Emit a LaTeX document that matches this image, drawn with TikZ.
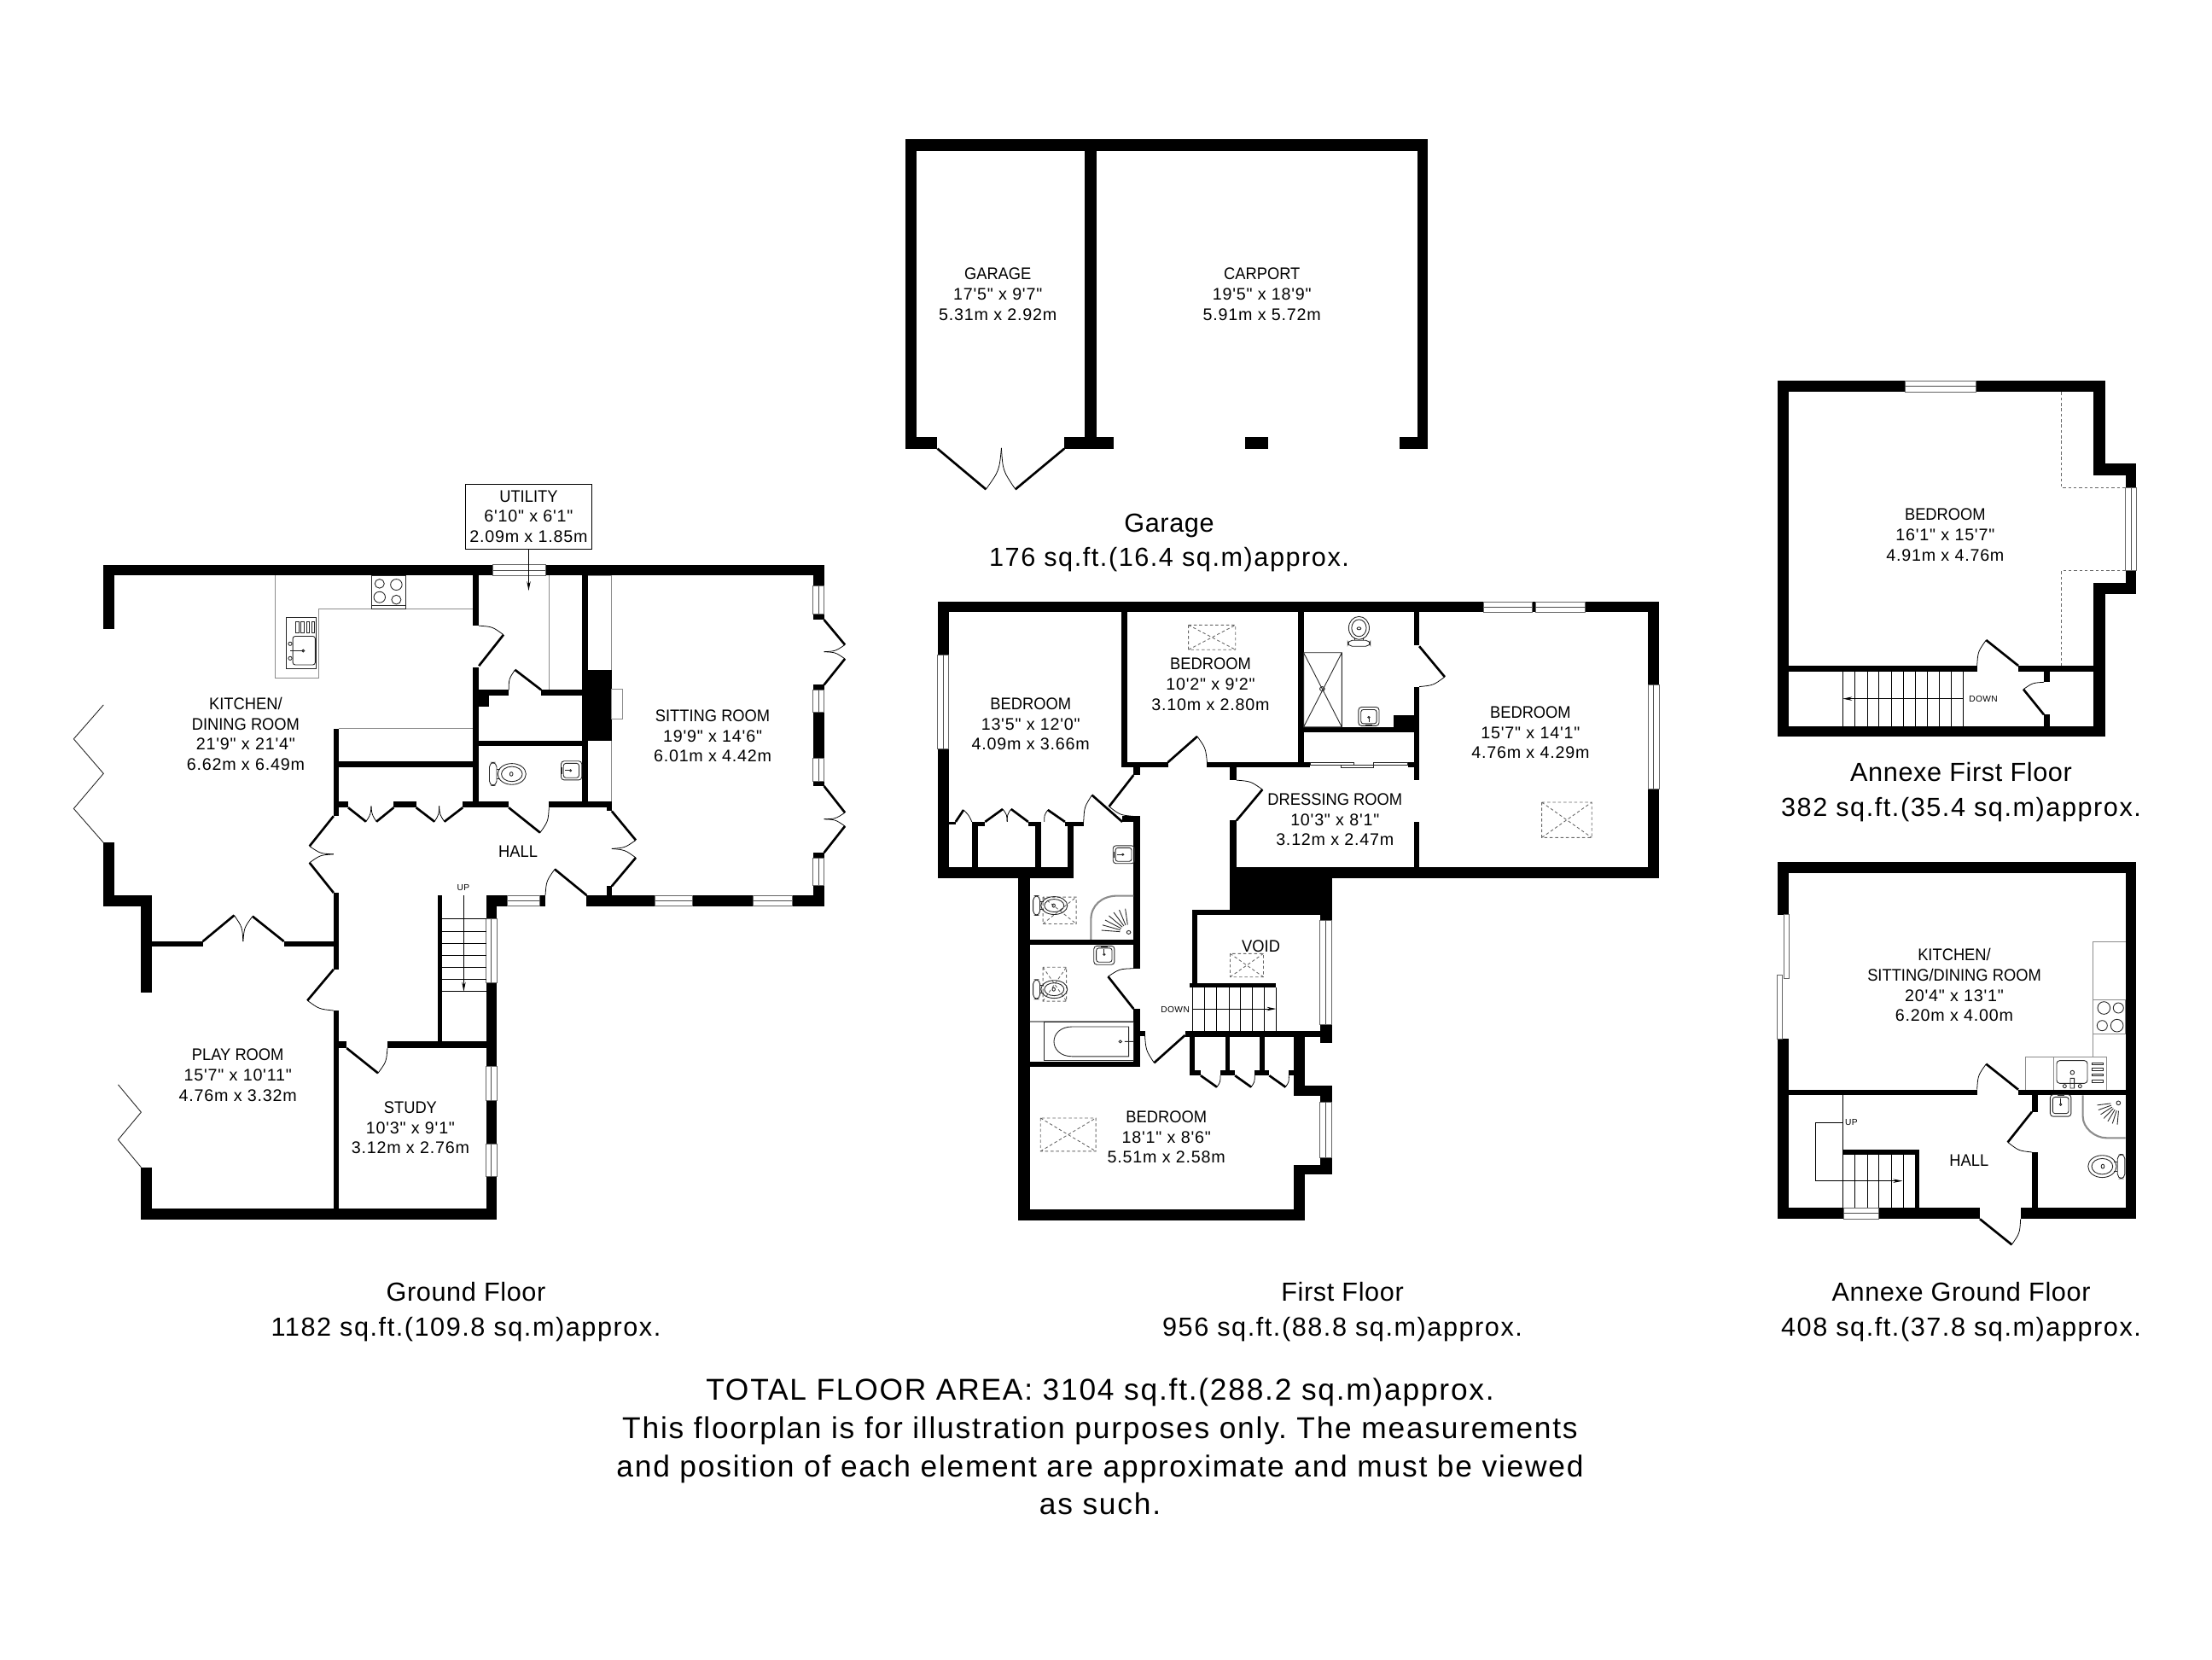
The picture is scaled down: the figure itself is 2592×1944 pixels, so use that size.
\documentclass[tikz,border=0pt]{standalone}
\usepackage{fontspec}
\usetikzlibrary{calc,arrows.meta}
\newfontfamily\planfont[LetterSpace=4]{Liberation Sans}
\newfontfamily\planname[FakeStretch=.93]{Liberation Sans}
\newfontfamily\capfont[LetterSpace=5]{Liberation Sans}
\newfontfamily\capnamefont[LetterSpace=2]{Liberation Sans}
\tikzset{
	wall/.style={fill=black,draw=none},
	leaf/.style={line width=.75pt,black},
	swing/.style={line width=.22pt,black},
	fixture/.style={line width=.25pt,black!85},
	unitline/.style={line width=.3pt,black!45},
	skyline/.style={line width=.25pt,black!60,dash pattern=on 1pt off .8pt},
	tread/.style={line width=.25pt,black},
	stairarrow/.style={line width=.25pt,-{Stealth[length=1.1mm,width=.45mm]}},
	roomlabel/.style={align=center,inner sep=0pt,font=\planfont\fontsize{5.6}{6.74}\selectfont},
	smalllabel/.style={inner sep=0pt,font=\planfont\fontsize{2.9}{3.4}\selectfont},
	floorcap/.style={align=center,inner sep=0pt,font=\capfont\frenchspacing\fontsize{8.72}{11.4}\selectfont},
	totalcap/.style={align=center,inner sep=0pt,font=\capfont\frenchspacing\fontsize{10.05}{12.7}\selectfont}
}
\newcommand{\roomname}[1]{{\planname #1}}
\newcommand{\floorname}[1]{{\capnamefont #1}}
\newcommand{\walls}[1]{\foreach \xa/\ya/\xb/\yb in {#1} {\fill[wall] (\xa,\ya) rectangle (\xb,\yb);}}
\newcommand{\door}[3]{\draw[leaf] (#1) -- (#2);\draw[swing] (#2) .. controls ($(#1)!1.1!($(#2)!.5!(#3)$)$) .. (#3);}
\newcommand{\winh}[4]{\filldraw[fixture,draw=black!60,fill=white] (#1,#2) rectangle (#3,#4);\draw[fixture,draw=black!70] (#1,{(#2+#4)/2}) -- (#3,{(#2+#4)/2});}
\newcommand{\winv}[4]{\filldraw[fixture,draw=black!60,fill=white] (#1,#2) rectangle (#3,#4);\draw[fixture,draw=black!70] ({(#1+#3)/2},#2) -- ({(#1+#3)/2},#4);}
\newcommand{\skylight}[4]{\draw[skyline] (#1,#2) rectangle (#3,#4) (#1,#2) -- (#3,#4) (#1,#4) -- (#3,#2);}
\newcommand{\wcpan}[4]{\begin{scope}[shift={(#1,#2)},rotate=#3,scale=#4]
	\draw[fixture,rounded corners=1.5pt] (-35,-23) rectangle (-21,23);
	\draw[fixture] (-21,-9) -- (-14,-9) (-21,9) -- (-14,9);
	\draw[fixture] (8,0) ellipse (27 and 21);
	\draw[fixture] (8,0) ellipse (20 and 15);
	\draw[fixture] (7,0) ellipse (3 and 4);
\end{scope}}
\newcommand{\basin}[4]{\begin{scope}[shift={(#1,#2)},rotate=#3,scale=#4]
	\draw[fixture,rounded corners=1pt] (-21,-22) rectangle (21,22);
	\draw[fixture,rounded corners=.8pt] (-16,-16) rectangle (16,17);
	\draw[fixture] (0,14) -- (0,4) (-7,20) -- (7,20);
	\draw[fixture] (0,2) circle (2);
\end{scope}}
\begin{document}
\begin{tikzpicture}[x=0.01cm,y=-0.01cm]
	\useasboundingbox (0,0) rectangle (2592,1944);
	\fill[white] (0,0) rectangle (2592,1944);
	
	\begin{scope}[shift={(60,550)},xscale=0.6127,yscale=0.587]
		\walls{100/190/1478/212,100/190/120/318,100/745/120/872,100/850/193/872,172/850/193/1045,
			193/942/290/952,445/942/545/952,172/1393/193/1497,172/1475/852/1497,832/850/852/1497,
			540/517/550/692,540/845/550/998,540/1080/550/1475,540/663/568/675,655/663/698/675,
			787/663/875/675,952/663/1072/675,806/212/818/312,806/395/818/675,550/583/806/595,
			818/440/875/452,818/452/838/473,937/440/1015/452,818/541/1015/552,1015/212/1026/400,
			1015/400/1072/541,1015/541/1026/675,1457/190/1478/300,1457/430/1478/632,1457/765/1478/872,
			1024/850/1478/872,1062/675/1072/682,1062/832/1072/850,832/850/945/872,643/1142/852/1155,
			550/1142/565/1155,740/850/747/1142}
		\winh{845}{190}{945}{212}
		\winh{1155}{850}{1227}{872}
		\winh{1342}{850}{1417}{872}
		\winh{873}{850}{935}{872}
		\foreach \ya/\yb in {233/288,440/485,577/622,775/830} {\winv{1457}{\ya}{1478}{\yb}}
		\foreach \ya/\yb in {897/1025,1192/1260,1347/1412} {\winv{832}{\ya}{852}{\yb}}
		\draw[fixture] (100,470) -- (43,538) -- (100,607) -- (43,677) -- (100,745);
		\draw[fixture] (128,1228) -- (172,1283) -- (128,1338) -- (172,1393);
		\door{818,392}{865,330}{818,312}
		\door{937,440}{887,400}{875,440}
		\door{290,942}{350,890}{367,942}
		\door{445,942}{385,892}{367,942}
		\door{568,675}{602,703}{612,672}
		\door{655,675}{622,703}{612,672}
		\door{698,675}{733,703}{742,672}
		\door{787,675}{752,703}{742,672}
		\door{875,675}{935,725}{952,675}
		\door{540,692}{494,752}{540,768}
		\door{540,845}{494,785}{540,768}
		\door{1072,682}{1118,740}{1072,757}
		\door{1072,832}{1118,775}{1072,757}
		\door{1024,850}{963,798}{945,850}
		\door{540,998}{490,1060}{540,1080}
		\door{565,1155}{625,1205}{643,1155}
		\door{1478,300}{1518,350}{1478,364}
		\door{1478,430}{1518,378}{1478,364}
		\door{1478,632}{1518,685}{1478,698}
		\door{1478,765}{1518,712}{1478,698}
		\draw[unitline] (428,212) -- (428,417) -- (512,417) -- (512,278) -- (806,278);
		\draw[unitline] (550,517) -- (806,517);
		\draw[unitline] (1026,212) -- (1072,212) -- (1072,400) (1072,541) -- (1072,663) (952,212) -- (952,440);
		\draw[unitline] (1072,438) rectangle (1093,498);
		\draw[fixture] (612,212) rectangle (678,278) (612,272) -- (678,272);
		\foreach \xa/\ya/\ra in {628/228/9,660/230/11,628/255/11,660/260/9} {\draw[fixture] (\xa,\ya) circle (\ra);}
		\draw[fixture] (450,295) rectangle (507,398);
		\draw[fixture,rounded corners=.8pt] (462,333) rectangle (505,390);
		\foreach \xa in {468,478,488,498} {\draw[fixture] (\xa,304) rectangle (\xa+6,326);}
		\draw[fixture] (457,362) -- (482,362) (457,348) circle (3.5) (457,377) circle (3.5) (482,362) circle (2.5);
		\wcpan{873}{608}{0}{1}
		\basin{995}{601}{-90}{.9}
		\foreach \ya in {897,922,946,970,994,1018,1042} {\draw[tread] (747,\ya) -- (832,\ya);}
		\draw[stairarrow] (789,850) -- (789,1042);
		\node[smalllabel] (groundup) at (788,834) {UP};
		\node[roomlabel] (kitchen) at (372,528) {\roomname{KITCHEN/}\\\roomname{DINING ROOM}\\21'9" x 21'4"\\6.62m x 6.49m};
		\node[roomlabel] (sitting) at (1265,532) {\roomname{SITTING ROOM}\\19'9" x 14'6"\\6.01m x 4.42m};
		\node[roomlabel] (hallg) at (893,763) {\roomname{HALL}};
		\node[roomlabel] (playroom) at (357,1209) {\roomname{PLAY ROOM}\\15'7" x 10'11"\\4.76m x 3.32m};
		\node[roomlabel] (study) at (687,1314) {\roomname{STUDY}\\10'3" x 9'1"\\3.12m x 2.76m};
		\node[roomlabel,draw,line width=.3pt,minimum width=1.48cm,minimum height=.76cm] (utility) at (913,94) {\roomname{UTILITY}\\6'10" x 6'1"\\2.09m x 1.85m};
		\coordinate (utilitytip) at (utility.south |- 0,242);
		\draw[stairarrow] (utility.south) -- (utilitytip);
	\end{scope}
	
	\begin{scope}[shift={(1090,690)},xscale=0.5742,yscale=0.498]
		\walls{15/30/1488/55,15/30/38/680,15/655/293/680,180/655/203/1485,180/1460/765/1485,
			742/1055/765/1193,742/1378/765/1485,742/1168/820/1193,795/1168/820/1378,742/1355/820/1378,
			1465/30/1488/680,612/655/1488/680,612/680/820/755,535/755/820/768,535/755/545/938,
			530/928/706/938,795/755/820/1068,520/1040/820/1055,530/1055/540/1145,602/1055/612/1145,
			672/1055/682/1145,530/1132/552/1145,592/1132/622/1145,662/1132/692/1145,732/1132/765/1145,
			612/408/625/450,612/545/625/655,390/55/403/420,390/408/485/420,565/408/775/420,750/55/762/420,
			760/325/998/338,945/298/998/325,987/55/998/132,987/230/998/450,987/548/998/655,975/408/998/420,
			415/420/428/438,415/535/428/893,415/988/428/1125,428/1040/438/1052,203/825/415/838,
			203/1112/428/1125,85/548/97/655,215/548/227/655,280/548/293/680,38/548/52/555,85/548/112/558,
			200/548/227/558,275/548/313/558,392/535/428/548}
		\winh{1130}{30}{1228}{55}
		\winh{1235}{30}{1337}{55}
		\winv{15}{155}{38}{377}
		\winv{1465}{225}{1488}{470}
		\winv{795}{780}{820}{1025}
		\winv{795}{1207}{820}{1338}
		\door{52,548}{68,520}{85,548}
		\door{112,548}{148,518}{157,548}
		\door{200,548}{165,518}{157,548}
		\door{275,548}{240,520}{233,548}
		\door{392,548}{330,485}{313,548}
		\door{415,438}{365,512}{415,535}
		\door{485,408}{545,347}{565,408}
		\door{625,545}{678,472}{625,450}
		\door{998,135}{1050,207}{998,230}
		\door{415,988}{363,912}{415,893}
		\door{520,1050}{457,1115}{438,1050}
		\door{552,1145}{585,1172}{592,1145}
		\door{622,1145}{655,1172}{662,1145}
		\door{692,1145}{725,1172}{732,1145}
		\draw[fixture] (775,408) rectangle (865,414) (838,414) rectangle (905,420) (905,408) rectangle (975,414);
		\draw[fixture] (762,150) rectangle (840,325) (762,150) -- (840,325) (762,325) -- (840,150) (800,235) circle (5);
		\skylight{527}{85}{623}{143}
		\skylight{1248}{502}{1350}{585}
		\skylight{225}{1245}{338}{1323}
		\skylight{612}{858}{680}{913}
		\skylight{230}{725}{298}{788}
		\skylight{230}{890}{278}{970}
		\wcpan{875}{100}{90}{1}
		\wcpan{245}{745}{0}{1}
		\wcpan{245}{942}{0}{1}
		\basin{895}{300}{0}{1}
		\basin{395}{625}{-90}{1}
		\basin{355}{862}{180}{1}
		\draw[unitline,line width=.6pt] (328,825) -- (328,778) .. controls (328,745) and (350,722) .. (382,722) -- (415,722);
		\foreach \a in {185,198,211,224,237,250,263} {\draw[fixture] (405,808) ++(\a:18) -- ++(\a:38);}
		\draw[fixture] (405,808) circle (4);
		\draw[unitline] (203,1018) -- (415,1018);
		\draw[fixture] (232,1018) rectangle (415,1110);
		\draw[fixture] (405,1030) -- (290,1030) .. controls (240,1030) and (240,1100) .. (290,1100) -- (405,1100) -- cycle;
		\draw[fixture] (388,1065) circle (3) (397,1065) -- (415,1065);
		\foreach \xa in {535,560,585,610,633,658,682,706} {\draw[tread] (\xa,938) -- (\xa,1040);}
		\draw[stairarrow] (535,988) -- (706,988);
		\node[smalllabel] (firstdown) at (500,989) {DOWN};
		\node[roomlabel] (bedroomwest) at (205,318) {\roomname{BEDROOM}\\13'5" x 12'0"\\4.09m x 3.66m};
		\node[roomlabel] (bedroommid) at (572,224) {\roomname{BEDROOM}\\10'2" x 9'2"\\3.10m x 2.80m};
		\node[roomlabel] (bedroomeast) at (1225,338) {\roomname{BEDROOM}\\15'7" x 14'1"\\4.76m x 4.29m};
		\node[roomlabel] (dressing) at (826,543) {\roomname{DRESSING ROOM}\\10'3" x 8'1"\\3.12m x 2.47m};
		\node[roomlabel] (bedroomsouth) at (482,1290) {\roomname{BEDROOM}\\18'1" x 8'6"\\5.51m x 2.58m};
		\node[roomlabel] (void) at (675,841) {\roomname{VOID}};
	\end{scope}
	
	\begin{scope}[shift={(1050,150)},xscale=0.4212,yscale=0.3333]
		\walls{27/40/1480/80,27/40/58/1127,27/1087/115/1127,468/1087/605/1127,525/40/557/1127,
			972/1087/1035/1127,1400/1087/1480/1127,1450/40/1480/1127}
		\door{115,1127}{250,1270}{293,1125}
		\door{468,1127}{332,1270}{293,1125}
		\node[roomlabel] (garage) at (283,584) {\roomname{GARAGE}\\17'5" x 9'7"\\5.31m x 2.92m};
		\node[roomlabel] (carport) at (1018,584) {\roomname{CARPORT}\\19'5" x 18'9"\\5.91m x 5.72m};
	\end{scope}
	
	\begin{scope}[shift={(2070,430)},scale=0.3333]
		\walls{38/48/1190/88,38/48/78/1300,38/1262/1190/1300,1150/48/1190/380,1150/340/1300/380,
			1262/340/1300/425,1262/715/1300/798,1150/758/1300/798,1150/758/1190/1300,78/1050/740/1070,
			885/1050/1150/1070,975/1070/995/1108,975/1222/995/1262}
		\winh{487}{48}{737}{88}
		\winv{1262}{425}{1300}{715}
		\door{885,1050}{772,960}{740,1050}
		\door{975,1222}{903,1133}{975,1108}
		\draw[skyline] (1037,88) -- (1037,425) -- (1262,425) (1262,715) -- (1037,715) -- (1037,1050);
		\foreach \xa in {268,311,354,395,438,480,523,566,608,650,692} {\draw[tread] (\xa,1070) -- (\xa,1262);}
		\draw[stairarrow] (692,1166) -- (268,1166);
		\node[smalllabel] (annexedown) at (762,1167) {DOWN};
		\node[roomlabel] (bedroomannexe) at (628,590) {\roomname{BEDROOM}\\16'1" x 15'7"\\4.91m x 4.76m};
	\end{scope}
	
	\begin{scope}[shift={(2070,1000)},scale=0.3333]
		\walls{38/30/1300/70,38/30/78/215,38/652/78/1285,1262/30/1300/1285,38/1245/750/1285,
			893/1245/1300/1285,78/830/740/850,885/830/1262/850,933/850/953/908,933/1050/953/1245,
			268/1040/538/1060,523/1040/538/1245}
		\winh{270}{1245}{395}{1285}
		\draw[fixture,draw=black!60] (60,215) rectangle (78,440) (38,428) rectangle (56,652);
		\door{885,830}{772,740}{740,830}
		\door{933,908}{848,1015}{933,1050}
		\door{750,1285}{862,1375}{893,1285}
		\draw[tread] (268,850) -- (268,1245);
		\foreach \xa in {311,354,395,438,480} {\draw[tread] (\xa,1060) -- (\xa,1245);}
		\draw[stairarrow] (268,945) -- (172,945) -- (172,1151) -- (478,1151);
		\node[smalllabel] (annexeup) at (298,945) {UP};
		\draw[unitline] (1262,310) -- (1147,310) -- (1147,715) (910,830) -- (910,715) -- (1195,715) -- (1195,830) (1010,715) -- (1010,830);
		\draw[unitline] (1147,515) rectangle (1262,635);
		\foreach \xa/\ya/\ra in {1186/543/22,1237/543/18,1180/605/18,1232/605/22} {\draw[fixture] (\xa,\ya) circle (\ra);}
		\draw[fixture,rounded corners=1pt] (1020,728) rectangle (1128,808);
		\foreach \ya in {735,755,775,797} {\draw[fixture] (1143,\ya) rectangle (1183,\ya+7);}
		\draw[fixture] (1075,770) circle (7) (1068,790) rectangle (1082,825) (1048,818) circle (6) (1102,818) circle (6);
		\basin{1034}{886}{180}{1.75}
		\wcpan{1195}{1100}{180}{1.85}
		\draw[unitline,line width=.6pt] (1112,850) -- (1112,925) .. controls (1112,965) and (1155,1000) .. (1195,1000) -- (1262,1000);
		\foreach \a in {95,108,121,134,147,160,173} {\draw[fixture] (1240,875) ++(\a:30) -- ++(\a:48);}
		\draw[fixture] (1237,877) circle (7);
		\node[roomlabel] (kitchenannexe) at (660,463) {\roomname{KITCHEN/}\\\roomname{SITTING/DINING ROOM}\\20'4" x 13'1"\\6.20m x 4.00m};
		\node[roomlabel] (hallannexe) at (712,1078) {\roomname{HALL}};
	\end{scope}
	
	\node[floorcap] (capgarage) at (1370,636) {\floorname{Garage}\\176 sq.ft.(16.4 sq.m)approx.};
	\node[floorcap] (capannexefirst) at (2298,928) {\floorname{Annexe First Floor}\\382 sq.ft.(35.4 sq.m)approx.};
	\node[floorcap] (capground) at (546,1537) {\floorname{Ground Floor}\\1182 sq.ft.(109.8 sq.m)approx.};
	\node[floorcap] (capfirst) at (1573,1537) {\floorname{First Floor}\\956 sq.ft.(88.8 sq.m)approx.};
	\node[floorcap] (capannexeground) at (2298,1537) {\floorname{Annexe Ground Floor}\\408 sq.ft.(37.8 sq.m)approx.};
	\node[totalcap] (captotal) at (1289,1695) {TOTAL FLOOR AREA: 3104 sq.ft.(288.2 sq.m)approx.\\This floorplan is for illustration purposes only. The measurements\\and position of each element are approximate and must be viewed\\as such.};
\end{tikzpicture}
\end{document}
